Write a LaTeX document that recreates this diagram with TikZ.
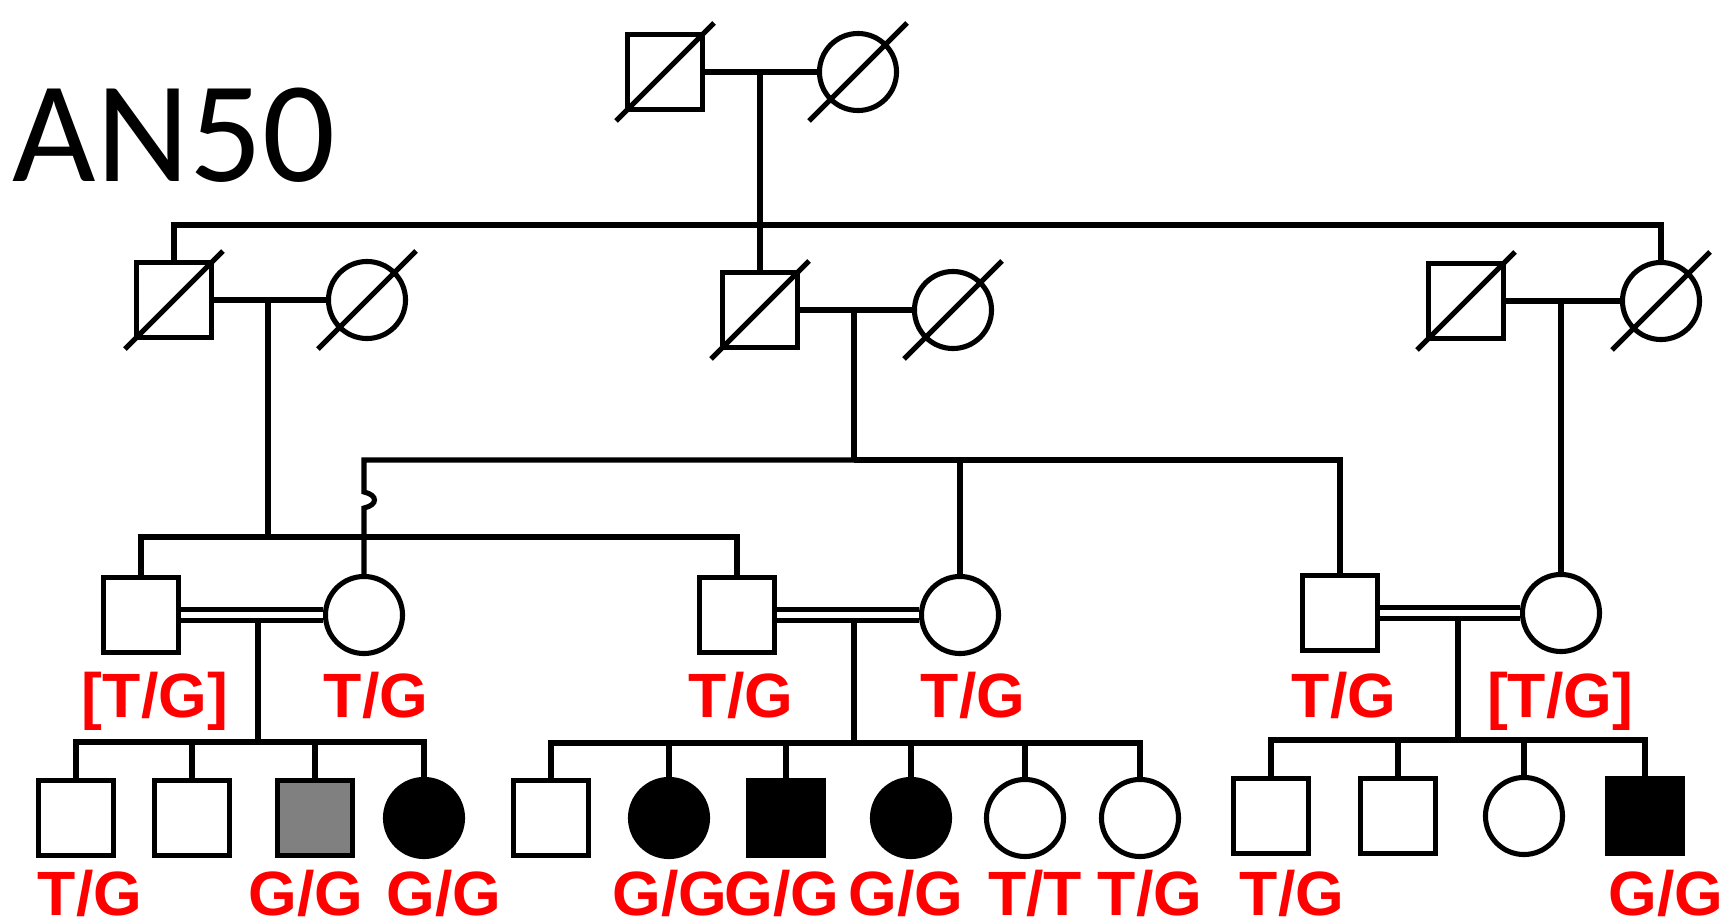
\documentclass[tikz,border=0pt]{standalone}
\usepackage{fontspec}
\setmainfont{Liberation Sans}
\newfontfamily\titlefont{Carlito}
\usepackage{tikz}

\newcommand{\deceased}[1]{\draw [edge_style] (#1.center) ++(-49,49) -- ++(98,-98);}

\begin{document}
\begin{tikzpicture}[x=0.01cm, y=-0.01cm,
        male_style/.style={rectangle,draw=black,line width=1.45pt,fill=white,minimum size=0.75cm,inner sep=0pt},
        female_style/.style={circle,draw=black,line width=1.45pt,fill=white,minimum size=0.77cm,inner sep=0pt},
        affected/.style={fill=black},
        carrier_grey/.style={fill=gray},
        edge_style/.style={draw=black, line width=1.45pt,-},
        consang_style/.style={draw=black, line width=1.35pt, double=white, double distance=1.8pt},
        geno_style/.style={text=red, font=\fontsize{17.8}{17.8}\selectfont\bfseries, inner sep=0pt, anchor=base}]

        \fill [white] (0,0) rectangle (1729,924);
        \useasboundingbox (0,0) rectangle (1729,924);

        \node [font=\titlefont\fontsize{41}{41}\selectfont, anchor=base west, inner sep=0pt](title) at (12,182) {AN50};

        % generation I
        \node [male_style](i1) at (665,72) {};
        \node [female_style](i2) at (858,72) {};
        % generation II
        \node [male_style](ii1) at (174,300) {};
        \node [female_style](ii2) at (367,300) {};
        \node [male_style](ii3) at (760,310) {};
        \node [female_style](ii4) at (953,310) {};
        \node [male_style](ii5) at (1466,301) {};
        \node [female_style](ii6) at (1661,301) {};
        % generation III
        \node [male_style](iii1) at (141,615) {};
        \node [female_style](iii2) at (364,615) {};
        \node [male_style](iii3) at (737,615) {};
        \node [female_style](iii4) at (960,615) {};
        \node [male_style](iii5) at (1340,613) {};
        \node [female_style](iii6) at (1561,613) {};
        % generation IV
        \node [male_style](iv1) at (76,818) {};
        \node [male_style](iv2) at (192,818) {};
        \node [male_style,carrier_grey](iv3) at (315,818) {};
        \node [female_style,affected](iv4) at (424,818) {};
        \node [male_style](iv5) at (551,818) {};
        \node [female_style,affected](iv6) at (669,818) {};
        \node [male_style,affected](iv7) at (786,818) {};
        \node [female_style,affected](iv8) at (911,818) {};
        \node [female_style](iv9) at (1025,818) {};
        \node [female_style](iv10) at (1140,818) {};
        \node [male_style](iv11) at (1271,816) {};
        \node [male_style](iv12) at (1398,816) {};
        \node [female_style](iv13) at (1524,816) {};
        \node [male_style,affected](iv14) at (1645,816) {};

        % join points
        \coordinate (m1) at (760,72);
        \coordinate (s1) at (760,225);
        \coordinate (m2) at (268,300);
        \coordinate (s2) at (268,537);
        \coordinate (m3) at (854,310);
        \coordinate (s3) at (854,460);
        \coordinate (j1) at (364,492);
        \coordinate (j2) at (364,508);
        \coordinate (m4) at (1561,301);
        \coordinate (m5) at (258,620);
        \coordinate (s5) at (258,742);
        \coordinate (m6) at (854,620);
        \coordinate (s6) at (854,743);
        \coordinate (m7) at (1458,618);
        \coordinate (s7) at (1458,740);

        \draw [edge_style] (i1) -- (i2);
        \draw [edge_style] (m1) -- (s1);
        \draw [edge_style] (ii1.north) |- (s1) -| (ii6.north);
        \draw [edge_style] (s1) -- (ii3.north);
        \draw [edge_style] (ii1) -- (ii2);
        \draw [edge_style] (ii3) -- (ii4);
        \draw [edge_style] (ii5) -- (ii6);
        \draw [edge_style] (m2) -- (s2);
        \draw [edge_style] (iii1.north) |- (s2) -| (iii3.north);
        \draw [edge_style] (m3) -- (s3);
        \draw [edge_style] (s3) -| (j1) .. controls +(14,3) and +(14,-3) .. (j2) -- (iii2.north);
        \draw [edge_style] (s3) -| (iii5.north);
        \draw [edge_style] (s3 -| iii4.north) -- (iii4.north);
        \draw [edge_style] (m4) -- (iii6.north);
        \draw [consang_style] (iii1) -- (iii2);
        \draw [consang_style] (iii3) -- (iii4);
        \draw [consang_style] (iii5) -- (iii6);
        \draw [edge_style] (m5) -- (s5);
        \draw [edge_style] (iv1.north) |- (s5) -| (iv4.north);
        \foreach \c in {iv2,iv3} \draw [edge_style] (\c.north) -- (\c.north |- s5);
        \draw [edge_style] (m6) -- (s6);
        \draw [edge_style] (iv5.north) |- (s6) -| (iv10.north);
        \foreach \c in {iv6,iv7,iv8,iv9} \draw [edge_style] (\c.north) -- (\c.north |- s6);
        \draw [edge_style] (m7) -- (s7);
        \draw [edge_style] (iv11.north) |- (s7) -| (iv14.north);
        \foreach \c in {iv12,iv13} \draw [edge_style] (\c.north) -- (\c.north |- s7);

        \foreach \p in {i1,i2,ii1,ii2,ii3,ii4,ii5,ii6} \deceased{\p};

        % genotypes
        \node [geno_style](g1) at (155,717) {[T/G]};
        \node [geno_style](g2) at (376,717) {T/G};
        \node [geno_style](g3) at (741,717) {T/G};
        \node [geno_style](g4) at (973,717) {T/G};
        \node [geno_style](g5) at (1344,717) {T/G};
        \node [geno_style](g6) at (1560,717) {[T/G]};
        \node [geno_style](g7) at (90,915) {T/G};
        \node [geno_style](g8) at (306,915) {G/G};
        \node [geno_style](g9) at (444,915) {G/G};
        \node [geno_style](g10) at (670,915) {G/G};
        \node [geno_style](g11) at (782,915) {G/G};
        \node [geno_style](g12) at (906,915) {G/G};
        \node [geno_style](g13) at (1035,915) {T/T};
        \node [geno_style](g14) at (1150,915) {T/G};
        \node [geno_style](g15) at (1292,915) {T/G};
        \node [geno_style](g16) at (1666,915) {G/G};
\end{tikzpicture}
\end{document}
